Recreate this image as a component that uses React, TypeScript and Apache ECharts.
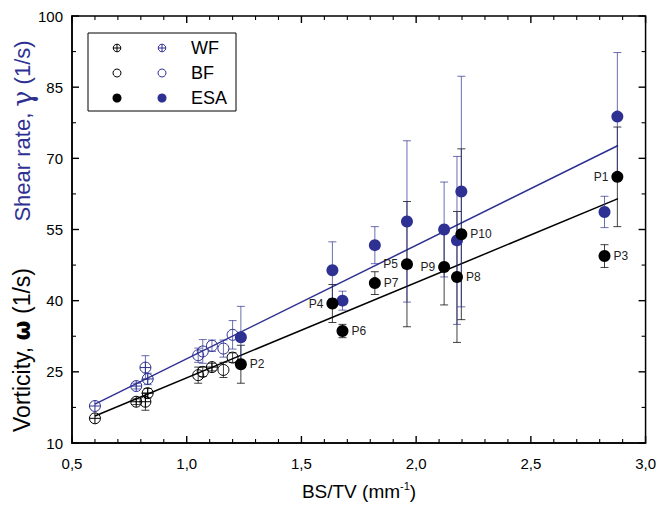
import React, { useEffect, useRef } from "react";
import * as echarts from "echarts";

const BLUE = "#2e3192";
const BLUE_ERR = "rgba(46,49,146,0.7)";
const BLACK_ERR = "rgba(0,0,0,0.75)";
const FONT = "'Liberation Sans', Arial, sans-serif";

// axis ranges / ticks
const xTicks = [0.5, 1.0, 1.5, 2.0, 2.5, 3.0];
const yTicks = [10, 25, 40, 55, 70, 85, 100];
const xMinorStep = 0.1;
const yMinorStep = 7.5;

// WF (crossed circles)
const wfBlackX = [0.6, 0.78, 0.82, 0.83, 1.11];
const wfBlackY = [15.2, 18.7, 18.7, 20.5, 26.0];
const wfBlackErr = [0, 0.6, 1.8, 1.0, 0.8];
const wfBlueX = [0.6, 0.78, 0.82, 0.83];
const wfBlueY = [17.8, 22.0, 25.9, 23.5];
const wfBlueErr = [0, 0.6, 2.5, 1.2];

// BF (open circles)
const bfBlackX = [1.05, 1.07, 1.16, 1.2];
const bfBlackY = [24.3, 25.0, 25.4, 28.0];
const bfBlackErr = [1.7, 1.0, 1.6, 1.0];
const bfBlueX = [1.05, 1.07, 1.11, 1.16, 1.2];
const bfBlueY = [28.5, 29.3, 30.5, 29.9, 32.8];
const bfBlueErr = [1.5, 2.5, 1.2, 1.8, 3.0];

// ESA (filled circles) P1..P10
const esaLabels = ["P1", "P2", "P3", "P4", "P5", "P6", "P7", "P8", "P9", "P10"];
const esaX = [2.877, 1.236, 2.821, 1.635, 1.96, 1.679, 1.82, 2.178, 2.122, 2.197];
const esaBlackY = [66.1, 26.6, 49.4, 39.4, 47.7, 33.6, 43.7, 45.0, 47.1, 54.0];
const esaBlackErr = [10.5, 4.0, 2.4, 4.0, 13.2, 1.4, 2.4, 13.8, 8.0, 18.0];
const esaBlueY = [78.8, 32.3, 58.7, 46.4, 56.7, 40.0, 51.7, 52.7, 55.0, 63.0];
const esaBlueErr = [13.5, 6.5, 3.3, 6.0, 17.0, 2.0, 3.9, 17.7, 10.0, 24.3];
const esaLabelPos = ["left", "right", "right", "left", "left", "right", "right", "right", "left", "right"];

// linear fits
const fitX = [0.6, 2.88];
const fitBlueY = [18.2, 72.7];
const fitBlackY = [15.7, 61.5];

const CROSS =
  "path://M10,0A10,10 0 1,1 10,20A10,10 0 1,1 10,0Z M0,10L20,10 M10,0L10,20";

const pts = (xs: number[], ys: number[], es?: number[]) =>
  xs.map((x, i) => [x, ys[i], es ? es[i] : 0]);
const xy = (xs: number[], ys: number[]) => xs.map((x, i) => [x, ys[i]]);

function errSeries(data: number[][], color: string) {
  return {
    type: "custom",
    xAxisIndex: 0,
    yAxisIndex: 0,
    z: 2,
    silent: true,
    data: data.filter((d) => d[2] > 0),
    encode: { x: 0, y: 1 },
    renderItem: (params: any, api: any) => {
      const x = api.value(0);
      const y = api.value(1);
      const e = api.value(2);
      const top = api.coord([x, y + e]);
      const bot = api.coord([x, y - e]);
      const w = 4;
      const st = { stroke: color, lineWidth: 1 };
      return {
        type: "group",
        children: [
          { type: "line", shape: { x1: top[0], y1: top[1], x2: bot[0], y2: bot[1] }, style: st },
          { type: "line", shape: { x1: top[0] - w, y1: top[1], x2: top[0] + w, y2: top[1] }, style: st },
          { type: "line", shape: { x1: bot[0] - w, y1: bot[1], x2: bot[0] + w, y2: bot[1] }, style: st },
        ],
      };
    },
  };
}

function legendSymbol(kind: string, x: number, y: number, color: string): any[] {
  const z = 101;
  if (kind === "cross") {
    const r = 3.8;
    return [
      { type: "circle", z, shape: { cx: x, cy: y, r }, style: { fill: "none", stroke: color, lineWidth: 1 } },
      { type: "line", z, shape: { x1: x - r, y1: y, x2: x + r, y2: y }, style: { stroke: color, lineWidth: 1 } },
      { type: "line", z, shape: { x1: x, y1: y - r, x2: x, y2: y + r }, style: { stroke: color, lineWidth: 1 } },
    ];
  }
  if (kind === "open") {
    return [{ type: "circle", z, shape: { cx: x, cy: y, r: 4 }, style: { fill: "none", stroke: color, lineWidth: 1 } }];
  }
  return [{ type: "circle", z, shape: { cx: x, cy: y, r: 4.5 }, style: { fill: color } }];
}

const fmt = (v: number) => v.toFixed(1).replace(".", ",");

export default function App() {
  const ref = useRef<HTMLDivElement>(null);
  useEffect(() => {
    document.body.style.margin = "0";
    if (!ref.current) return;
    const chart = echarts.init(ref.current, null, { renderer: "svg" });

    const legendRows = [
      { name: "WF", kind: "cross", y: 48 },
      { name: "BF", kind: "open", y: 73 },
      { name: "ESA", kind: "filled", y: 98 },
    ];

    const graphics: any[] = [
      {
        type: "rect",
        shape: { x: 88, y: 33, width: 148, height: 78 },
        style: { fill: "#fff", stroke: "#000", lineWidth: 1 },
        z: 100,
      },
    ];
    legendRows.forEach((r) => {
      graphics.push(...legendSymbol(r.kind, 117, r.y, "#000"));
      graphics.push(...legendSymbol(r.kind, 162, r.y, BLUE));
      graphics.push({
        type: "text",
        x: 191,
        y: r.y,
        z: 101,
        style: {
          text: r.name,
          font: `18px ${FONT}`,
          fill: "#000",
          align: "left",
          verticalAlign: "middle",
        },
      });
    });
    graphics.push({
      type: "text",
      x: 22,
      y: 350,
      rotation: Math.PI / 2,
      style: {
        text: "{a|Vorticity, }{w|ω}{a| (1/s)}",
        align: "center",
        verticalAlign: "middle",
        fill: "#000",
        rich: {
          a: { fontSize: 23, fontFamily: FONT, fill: "#000" },
          w: { fontSize: 23, fontFamily: "'DejaVu Sans', sans-serif", fontWeight: "bold", fill: "#000" },
        },
      },
    });
    graphics.push({
      type: "text",
      x: 22,
      y: 131,
      rotation: Math.PI / 2,
      style: {
        text: "{a|Shear rate, }{g|γ}{a| (1/s)}",
        align: "center",
        verticalAlign: "middle",
        fill: BLUE,
        rich: {
          a: { fontSize: 22, fontFamily: FONT, fill: BLUE },
          g: { fontSize: 27, fontFamily: "'DejaVu Serif', serif", fill: BLUE },
        },
      },
    });
    graphics.push({
      type: "text",
      x: 359,
      y: 491,
      style: {
        text: "{a|BS/TV (mm}{s|-1}{a|)}",
        align: "center",
        verticalAlign: "middle",
        fill: "#000",
        rich: {
          a: { fontSize: 19, fontFamily: FONT, fill: "#000", lineHeight: 22 },
          s: { fontSize: 11, fontFamily: FONT, fill: "#000", verticalAlign: "top", lineHeight: 22 },
        },
      },
    });

    const axisLineStyle = { show: true, onZero: false, lineStyle: { color: "#000", width: 1.5 } };

    const option: any = {
      animation: false,
      backgroundColor: "#fff",
      grid: { left: 72, right: 13, top: 16, bottom: 64, containLabel: false },
      xAxis: [
        {
          type: "value",
          min: xTicks[0],
          max: xTicks[xTicks.length - 1],
          interval: 0.5,
          position: "bottom",
          axisLine: axisLineStyle,
          axisTick: { show: false },
          splitLine: { show: false },
          axisLabel: { show: true, fontSize: 15, fontFamily: FONT, color: "#000", margin: 13, formatter: (v: number) => fmt(v) },
        },
      ],
      yAxis: [
        {
          type: "value",
          min: yTicks[0],
          max: yTicks[yTicks.length - 1],
          interval: 15,
          position: "left",
          axisLine: axisLineStyle,
          axisTick: { show: false },
          splitLine: { show: false },
          axisLabel: { show: true, fontSize: 15, fontFamily: FONT, color: "#000", margin: 9 },
        },
      ],
      graphic: { elements: graphics },
      series: [
        {
          type: "line",
          data: xy(fitX, fitBlueY),
          symbol: "none",
          lineStyle: { color: BLUE, width: 1.5 },
          z: 1,
          silent: true,
        },
        {
          type: "line",
          data: xy(fitX, fitBlackY),
          symbol: "none",
          lineStyle: { color: "#000", width: 1.5 },
          z: 1,
          silent: true,
        },
        errSeries(pts(wfBlackX, wfBlackY, wfBlackErr), BLACK_ERR),
        errSeries(pts(bfBlackX, bfBlackY, bfBlackErr), BLACK_ERR),
        errSeries(pts(esaX, esaBlackY, esaBlackErr), BLACK_ERR),
        errSeries(pts(wfBlueX, wfBlueY, wfBlueErr), BLUE_ERR),
        errSeries(pts(bfBlueX, bfBlueY, bfBlueErr), BLUE_ERR),
        errSeries(pts(esaX, esaBlueY, esaBlueErr), BLUE_ERR),
        {
          type: "scatter",
          data: xy(wfBlackX, wfBlackY),
          symbol: CROSS,
          symbolSize: 11,
          itemStyle: { color: "rgba(255,255,255,0)", borderColor: "#000", borderWidth: 1, opacity: 1 },
          z: 3,
        },
        {
          type: "scatter",
          data: xy(wfBlueX, wfBlueY),
          symbol: CROSS,
          symbolSize: 11,
          itemStyle: { color: "rgba(255,255,255,0)", borderColor: BLUE, borderWidth: 1, opacity: 1 },
          z: 3,
        },
        {
          type: "scatter",
          data: xy(bfBlackX, bfBlackY),
          symbol: "circle",
          symbolSize: 11,
          itemStyle: { color: "rgba(255,255,255,0)", borderColor: "#000", borderWidth: 1, opacity: 1 },
          z: 3,
        },
        {
          type: "scatter",
          data: xy(bfBlueX, bfBlueY),
          symbol: "circle",
          symbolSize: 11,
          itemStyle: { color: "rgba(255,255,255,0)", borderColor: BLUE, borderWidth: 1, opacity: 1 },
          z: 3,
        },
        {
          type: "scatter",
          data: xy(esaX, esaBlueY),
          symbol: "circle",
          symbolSize: 12,
          itemStyle: { color: BLUE, opacity: 1 },
          z: 3,
        },
        {
          type: "scatter",
          data: esaX.map((x, i) => ({
            value: [x, esaBlackY[i]],
            name: esaLabels[i],
            label: { position: esaLabelPos[i] },
          })),
          symbol: "circle",
          symbolSize: 12,
          itemStyle: { color: "#000", opacity: 1 },
          label: {
            show: true,
            formatter: (p: any) => p.name,
            fontSize: 12,
            fontFamily: FONT,
            color: "#222",
            distance: 3,
          },
          z: 4,
        },
      ],
    };
    chart.setOption(option);

    // frame + inward ticks on all four sides, positioned through the axis scales
    const xMin = xTicks[0];
    const xMax = xTicks[xTicks.length - 1];
    const yMin = yTicks[0];
    const yMax = yTicks[yTicks.length - 1];
    const toPx = (v: number[]) => chart.convertToPixel({ xAxisIndex: 0, yAxisIndex: 0 }, v) as number[];
    const tl = toPx([xMin, yMax]);
    const br = toPx([xMax, yMin]);
    const extra: any[] = [
      {
        type: "rect",
        z: 90,
        silent: true,
        shape: { x: tl[0], y: tl[1], width: br[0] - tl[0], height: br[1] - tl[1] },
        style: { fill: "none", stroke: "#000", lineWidth: 1.5 },
      },
    ];
    const nx = Math.round((xMax - xMin) / xMinorStep);
    for (let i = 0; i <= nx; i++) {
      const len = i % 5 === 0 ? 7 : 4;
      const px = toPx([xMin + i * xMinorStep, yMin])[0];
      const st = { stroke: "#000", lineWidth: len > 5 ? 1.4 : 1.1 };
      extra.push({ type: "line", z: 90, silent: true, shape: { x1: px, y1: br[1], x2: px, y2: br[1] - len }, style: st });
      extra.push({ type: "line", z: 90, silent: true, shape: { x1: px, y1: tl[1], x2: px, y2: tl[1] + len }, style: st });
    }
    const ny = Math.round((yMax - yMin) / yMinorStep);
    for (let i = 0; i <= ny; i++) {
      const len = i % 2 === 0 ? 7 : 4;
      const py = toPx([xMin, yMin + i * yMinorStep])[1];
      const st = { stroke: "#000", lineWidth: len > 5 ? 1.4 : 1.1 };
      extra.push({ type: "line", z: 90, silent: true, shape: { x1: tl[0], y1: py, x2: tl[0] + len, y2: py }, style: st });
      extra.push({ type: "line", z: 90, silent: true, shape: { x1: br[0], y1: py, x2: br[0] - len, y2: py }, style: st });
    }
    chart.setOption({ graphic: { elements: graphics.concat(extra) } });

    return () => chart.dispose();
  }, []);
  return <div ref={ref} style={{ width: 659, height: 507 }} />;
}
